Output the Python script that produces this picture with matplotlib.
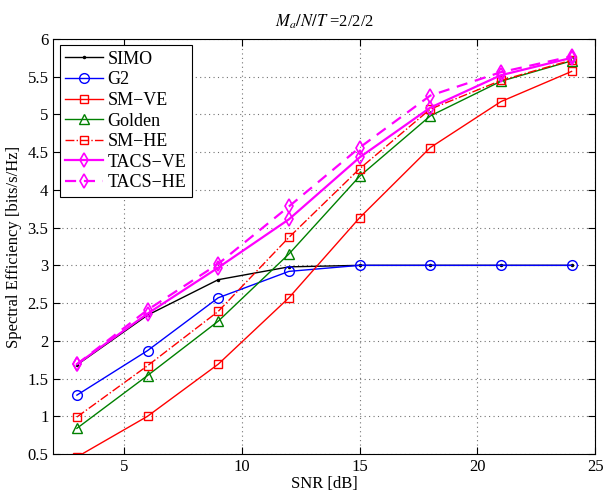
import matplotlib
matplotlib.use("Agg")
import matplotlib.pyplot as plt

plt.rcParams['font.family'] = ['Liberation Serif', 'DejaVu Serif']
plt.rcParams['mathtext.fontset'] = 'stix'

snr = [3, 6, 9, 12, 15, 18, 21, 24]
simo = [1.68, 2.34, 2.81, 2.98, 3.0, 3.0, 3.0, 3.0]
g2 = [1.28, 1.87, 2.57, 2.92, 3.0, 3.0, 3.0, 3.0]
sm_ve = [0.46, 1.0, 1.69, 2.57, 3.63, 4.56, 5.17, 5.57]
golden = [0.84, 1.54, 2.26, 3.15, 4.18, 4.98, 5.44, 5.71]
sm_he = [0.99, 1.67, 2.39, 3.37, 4.28, 5.07, 5.45, 5.72]
tacs_ve = [1.69, 2.36, 2.97, 3.61, 4.43, 5.09, 5.52, 5.75]
tacs_he = [1.69, 2.41, 3.02, 3.78, 4.56, 5.25, 5.56, 5.77]

xticks = [5, 10, 15, 20, 25]
yticks = [0.5, 1, 1.5, 2, 2.5, 3, 3.5, 4, 4.5, 5, 5.5, 6]
ytick_labels = ['0.5', '1', '1.5', '2', '2.5', '3', '3.5', '4', '4.5', '5', '5.5', '6']

fig = plt.figure(figsize=(6.11, 4.98), dpi=100)
ax = fig.add_axes([0.0873, 0.0884, 0.8867, 0.8333])

ax.plot(snr, simo, color='k', marker='.', markersize=3, lw=1.0, label='SIMO')
ax.plot(snr, g2, color='b', marker='o', markersize=7, mfc='none', lw=1.0, label='G2')
ax.plot(snr, sm_ve, color='r', marker='s', markersize=6, mfc='none', lw=1.0, label='SM\u2212VE')
ax.plot(snr, golden, color=(0, 0.5, 0), marker='^', markersize=7, mfc='none', lw=1.0, label='Golden')
ax.plot(snr, sm_he, color='r', marker='s', markersize=6, mfc='none', lw=1.0, ls='-.', label='SM\u2212HE')
ax.plot(snr, tacs_ve, color=(1, 0, 1), marker='d', markersize=7, mfc='none', mew=1.2, lw=1.6, label='TACS\u2212VE')
ax.plot(snr, tacs_he, color=(1, 0, 1), marker='d', markersize=7, mfc='none', mew=1.2, lw=1.6, ls=(0, (5, 3.5)), label='TACS\u2212HE')

ax.set_xlim(2, 25)
ax.set_ylim(0.5, 6)
ax.set_xticks(xticks)
ax.set_xticklabels([str(t) for t in xticks])
ax.set_yticks(yticks)
ax.set_yticklabels(ytick_labels)
ax.tick_params(direction='in', top=True, right=True, labelsize=12, length=5)
ax.grid(True, ls=(0, (1, 3)), color='0.45', lw=0.8)
for s in ax.spines.values():
    s.set_linewidth(0.8)

ax.set_xlabel('SNR [dB]', fontsize=12, labelpad=1)
ax.set_ylabel('Spectral Efficiency [bits/s/Hz]', fontsize=12, labelpad=4)
ax.set_title(r'$M_a/N/T$ =2/2/2', fontsize=12, pad=9)

leg = ax.legend(loc='upper left', fontsize=13, frameon=True, fancybox=False,
                edgecolor='k', framealpha=1, borderaxespad=0.35, handlelength=2.1,
                labelspacing=0.2, borderpad=0.3, handletextpad=0.25)
leg.get_frame().set_linewidth(0.8)

fig.savefig('out.png', dpi=100)
